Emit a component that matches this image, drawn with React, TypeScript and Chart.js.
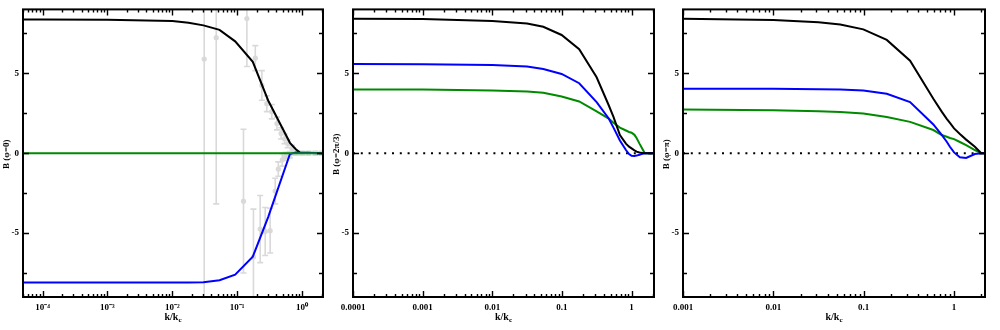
import React, { useEffect, useRef } from "react";
import { Chart, registerables } from "chart.js";
Chart.register(...registerables);

const FONT = '"Liberation Serif", "Times New Roman", serif';

// ---------- Panel 1 : B (φ=0) ----------
const p1K = [5e-5, 1e-4, 1e-3, 0.01, 0.0178, 0.0302, 0.0534, 0.093, 0.174, 0.3, 0.65, 0.8, 0.92, 2.2];
const p1Black = [8.37, 8.37, 8.36, 8.27, 8.17, 8.0, 7.72, 7.0, 5.72, 3.3, 0.65, 0.25, 0.05, 0];
const p1Blue = [-8.1, -8.1, -8.1, -8.1, -8.1, -8.08, -7.95, -7.6, -6.47, -4.0, -0.05, 0.05, 0.03, 0];
const p1Green = [0, 0, 0, 0, 0, 0, 0, 0, 0, 0, 0, 0, 0, 0];

const p1GreyK = [0.031, 0.0475, 0.141, 0.19, 0.24, 0.286, 0.342, 0.41, 0.475, 0.537, 0.6, 0.7,
  0.125, 0.178, 0.226, 0.27, 0.322, 0.385, 0.43, 0.495, 0.557, 0.65,
  0.8, 1.0, 1.25, 1.6, 2.0];
const p1GreyVal = [5.89, 7.23, 8.43, 5.95, 4.24, 3.1, 2.6, 1.86, 1.24, 0.9, 0.6, 0.3,
  -3.0, -6.5, -4.75, -4.9, -4.85, -2.37, -0.99, -0.41, -0.2, -0.1,
  0, 0, 0, 0, 0];
const p1GreyErr = [16, 10.4, 3.0, 0.78, 0.93, 0.5, 0.45, 0.4, 0.35, 0.3, 0.25, 0.2,
  4.5, 3.0, 2.1, 1.5, 1.4, 0.8, 0.45, 0.4, 0.25, 0.2,
  0.12, 0.12, 0.12, 0.12, 0.12];

const p1XTicks = [1e-4, 1e-3, 1e-2, 1e-1, 1];
const p1XLabels = ["10\u207B\u2074", "10\u207B\u00B3", "10\u207B\u00B2", "10\u207B\u00B9", "10\u2070"];

// ---------- Panel 2 : B (φ=2π/3) ----------
const p2K = [1e-4, 1e-3, 0.01, 0.0316, 0.054, 0.099, 0.177, 0.315, 0.47, 0.55, 0.68, 0.83, 0.92, 1.0, 1.1, 1.18, 1.3, 1.42, 1.55, 2.1];
const p2Black = [8.41, 8.4, 8.28, 8.12, 7.91, 7.4, 6.51, 4.75, 3.0, 2.27, 1.14, 0.6, 0.41, 0.3, 0.18, 0.1, 0.05, 0.02, 0, 0];
const p2Blue = [5.58, 5.57, 5.52, 5.42, 5.27, 4.96, 4.38, 3.2, 2.17, 1.6, 0.8, 0.2, -0.05, -0.16, -0.18, -0.15, -0.1, -0.04, 0, 0];
const p2Green = [3.99, 3.98, 3.93, 3.86, 3.78, 3.55, 3.24, 2.62, 2.17, 1.9, 1.6, 1.42, 1.33, 1.28, 1.15, 0.95, 0.6, 0.3, 0, 0];
const p2XTicks = [1e-4, 1e-3, 1e-2, 1e-1, 1];
const p2XLabels = ["0.0001", "0.001", "0.01", "0.1", "1"];

// ---------- Panel 3 : B (φ=π) ----------
const p3K = [1e-3, 0.01, 0.0316, 0.055, 0.099, 0.18, 0.326, 0.59, 0.73, 0.83, 0.9, 1.0, 1.16, 1.36, 1.7, 2.0, 2.2];
const p3Black = [8.41, 8.33, 8.2, 8.06, 7.75, 7.09, 5.79, 3.41, 2.6, 2.15, 1.9, 1.55, 1.2, 0.85, 0.4, 0, 0];
const p3Blue = [4.03, 4.03, 4.01, 3.99, 3.93, 3.72, 3.2, 1.8, 1.14, 0.72, 0.4, 0.05, -0.25, -0.3, -0.05, 0, 0];
const p3Green = [2.73, 2.69, 2.63, 2.58, 2.48, 2.27, 1.96, 1.45, 1.14, 1.03, 0.95, 0.88, 0.7, 0.5, 0.2, 0, 0];
const p3XTicks = [1e-3, 1e-2, 1e-1, 1];
const p3XLabels = ["0.001", "0.01", "0.1", "1"];

// ---------- shared y axis ----------
const yMin = -9;
const yMax = 9;
const yMajor = [-5, 0, 5];
const yMajorLabels = ["-5", "0", "5"];
const yMinor = [-7.5, -2.5, 2.5, 7.5];

const BLACK = "#000000";
const BLUE = "#0000ff";
const GREEN = "#008a00";
const GREY = "#d9d9d9";

type Series = { k: number[]; v: number[]; color: string; dashed?: boolean };
type Grey = { k: number[]; v: number[]; e: number[] };
type PanelCfg = {
  left: number; width: number; padRight: number;
  xMin: number; xMax: number; xTicks: number[]; xLabels: string[];
  yTitle: string; series: Series[]; zeroDotted: boolean; grey?: Grey;
};

const panels: PanelCfg[] = [
  {
    left: 0, width: 330, padRight: 7, xMin: 5e-5, xMax: 2.1, xTicks: p1XTicks, xLabels: p1XLabels,
    yTitle: "B (\u03C6=0)", zeroDotted: false,
    series: [
      { k: p1K, v: p1Green, color: GREEN },
      { k: p1K, v: p1Blue, color: BLUE },
      { k: p1K, v: p1Black, color: BLACK },
    ],
    grey: { k: p1GreyK, v: p1GreyVal, e: p1GreyErr },
  },
  {
    left: 330, width: 330, padRight: 6, xMin: 1e-4, xMax: 2.1, xTicks: p2XTicks, xLabels: p2XLabels,
    yTitle: "B (\u03C6=2\u03C0/3)", zeroDotted: true,
    series: [
      { k: p2K, v: p2Black, color: BLACK },
      { k: p2K, v: p2Blue, color: BLUE },
      { k: p2K, v: p2Green, color: GREEN },
    ],
  },
  {
    left: 660, width: 340, padRight: 15, xMin: 1e-3, xMax: 2.2, xTicks: p3XTicks, xLabels: p3XLabels,
    yTitle: "B (\u03C6=\u03C0)", zeroDotted: true,
    series: [
      { k: p3K, v: p3Black, color: BLACK },
      { k: p3K, v: p3Blue, color: BLUE },
      { k: p3K, v: p3Green, color: GREEN },
    ],
  },
];

function makeChart(canvas: HTMLCanvasElement, cfg: PanelCfg) {
  const datasets: any[] = cfg.series.map((s) => ({
    data: s.k.map((k, i) => ({ x: k, y: s.v[i] })),
    showLine: true,
    borderColor: s.color,
    borderWidth: 2,
    pointRadius: 0,
    tension: 0,
    fill: false,
  }));
  if (cfg.zeroDotted) {
    datasets.push({
      data: [{ x: cfg.xMin, y: 0 }, { x: cfg.xMax, y: 0 }],
      showLine: true,
      borderColor: BLACK,
      borderWidth: 2,
      borderDash: [2, 5.8],
      pointRadius: 0,
    });
  }
  if (cfg.grey) {
    const g = cfg.grey;
    datasets.push({
      data: g.k.map((k, i) => ({ x: k, y: g.v[i] })),
      showLine: false,
      pointRadius: 2.6,
      pointBackgroundColor: GREY,
      pointBorderColor: GREY,
      pointBorderWidth: 0,
    });
  }

  const decor = {
    id: "decor",
    beforeDatasetsDraw(chart: any) {
      if (!cfg.grey) return;
      const { ctx, chartArea: a, scales } = chart;
      const xs = scales.x, ys = scales.y;
      const g = cfg.grey;
      ctx.save();
      ctx.beginPath();
      ctx.rect(a.left, a.top, a.right - a.left, a.bottom - a.top);
      ctx.clip();
      ctx.strokeStyle = GREY;
      ctx.lineWidth = 1.6;
      g.k.forEach((k, i) => {
        const px = xs.getPixelForValue(k);
        const y1 = ys.getPixelForValue(g.v[i] + g.e[i]);
        const y2 = ys.getPixelForValue(g.v[i] - g.e[i]);
        ctx.beginPath();
        ctx.moveTo(px, y1); ctx.lineTo(px, y2);
        ctx.moveTo(px - 3, y1); ctx.lineTo(px + 3, y1);
        ctx.moveTo(px - 3, y2); ctx.lineTo(px + 3, y2);
        ctx.stroke();
      });
      ctx.restore();
    },
    afterDraw(chart: any) {
      const { ctx, chartArea: a, scales } = chart;
      const xs = scales.x, ys = scales.y;
      ctx.save();
      ctx.strokeStyle = "#000";
      ctx.lineWidth = 1.4;
      ctx.beginPath();
      const d0 = Math.floor(Math.log10(cfg.xMin));
      const d1 = Math.ceil(Math.log10(cfg.xMax));
      for (let d = d0; d <= d1; d++) {
        for (let m = 1; m <= 9; m++) {
          const v = m * Math.pow(10, d);
          if (v < cfg.xMin * 0.999 || v > cfg.xMax) continue;
          const px = Math.round(xs.getPixelForValue(v)) + 0.5;
          const len = m === 1 ? 6 : 3;
          ctx.moveTo(px, a.bottom); ctx.lineTo(px, a.bottom - len);
          ctx.moveTo(px, a.top); ctx.lineTo(px, a.top + len);
        }
      }
      const yt = [...yMajor.map((v) => [v, 6]), ...yMinor.map((v) => [v, 4])];
      yt.forEach(([v, len]) => {
        const py = Math.round(ys.getPixelForValue(v)) + 0.5;
        ctx.moveTo(a.left, py); ctx.lineTo(a.left + len, py);
        ctx.moveTo(a.right, py); ctx.lineTo(a.right - len, py);
      });
      ctx.stroke();
      ctx.lineWidth = 2;
      ctx.strokeRect(a.left, a.top, a.right - a.left, a.bottom - a.top);

      // x title with subscript
      ctx.fillStyle = "#000";
      ctx.textBaseline = "middle";
      ctx.textAlign = "left";
      ctx.font = `bold 10px ${FONT}`;
      const main = "k/k";
      const w1 = ctx.measureText(main).width;
      ctx.font = `bold 7px ${FONT}`;
      const w2 = ctx.measureText("c").width;
      const cx = (a.left + a.right) / 2;
      const sx = cx - (w1 + w2) / 2;
      ctx.font = `bold 10px ${FONT}`;
      ctx.fillText(main, sx, 317);
      ctx.font = `bold 7px ${FONT}`;
      ctx.fillText("c", sx + w1, 320);

      // y title
      ctx.font = `bold 9px ${FONT}`;
      ctx.textAlign = "center";
      ctx.translate(7, (a.top + a.bottom) / 2 + 1);
      ctx.rotate(-Math.PI / 2);
      ctx.fillText(cfg.yTitle, 0, 0);
      ctx.restore();
    },
  };

  const tickFont = { family: FONT, size: 9, weight: "bold" as const };

  return new Chart(canvas, {
    type: "scatter",
    data: { datasets },
    options: {
      animation: false,
      responsive: false,
      maintainAspectRatio: false,
      layout: { padding: { top: 5, right: cfg.padRight, left: 0, bottom: 0 } },
      plugins: { legend: { display: false }, tooltip: { enabled: false } },
      scales: {
        x: {
          type: "logarithmic",
          min: cfg.xMin,
          max: cfg.xMax,
          grid: { display: false, drawTicks: false },
          border: { display: false },
          afterBuildTicks: (s: any) => {
            s.ticks = cfg.xTicks.map((v) => ({ value: v }));
          },
          afterFit: (s: any) => {
            s.height = 33;
          },
          ticks: {
            autoSkip: false,
            maxRotation: 0,
            minRotation: 0,
            padding: 5,
            color: "#000",
            font: tickFont,
            callback: (_v: any, i: number) => cfg.xLabels[i],
          },
        },
        y: {
          type: "linear",
          min: yMin,
          max: yMax,
          grid: { display: false, drawTicks: false },
          border: { display: false },
          afterBuildTicks: (s: any) => {
            s.ticks = yMajor.map((v) => ({ value: v }));
          },
          afterFit: (s: any) => {
            s.width = 23;
          },
          ticks: {
            padding: 4,
            color: "#000",
            font: tickFont,
            callback: (_v: any, i: number) => yMajorLabels[i],
          },
        },
      },
    } as any,
    plugins: [decor],
  });
}

function Panel({ cfg }: { cfg: PanelCfg }) {
  const ref = useRef<HTMLCanvasElement>(null);
  useEffect(() => {
    if (!ref.current) return;
    const c = makeChart(ref.current, cfg);
    return () => c.destroy();
  }, [cfg]);
  return (
    <canvas
      ref={ref}
      width={cfg.width}
      height={330}
      style={{ position: "absolute", left: cfg.left, top: 0, width: cfg.width, height: 330, display: "block" }}
    />
  );
}

export default function App() {
  return (
    <div style={{ position: "fixed", left: 0, top: 0, width: 1000, height: 330, background: "#fff", overflow: "hidden" }}>
      {panels.map((p, i) => (
        <Panel key={i} cfg={p} />
      ))}
    </div>
  );
}
